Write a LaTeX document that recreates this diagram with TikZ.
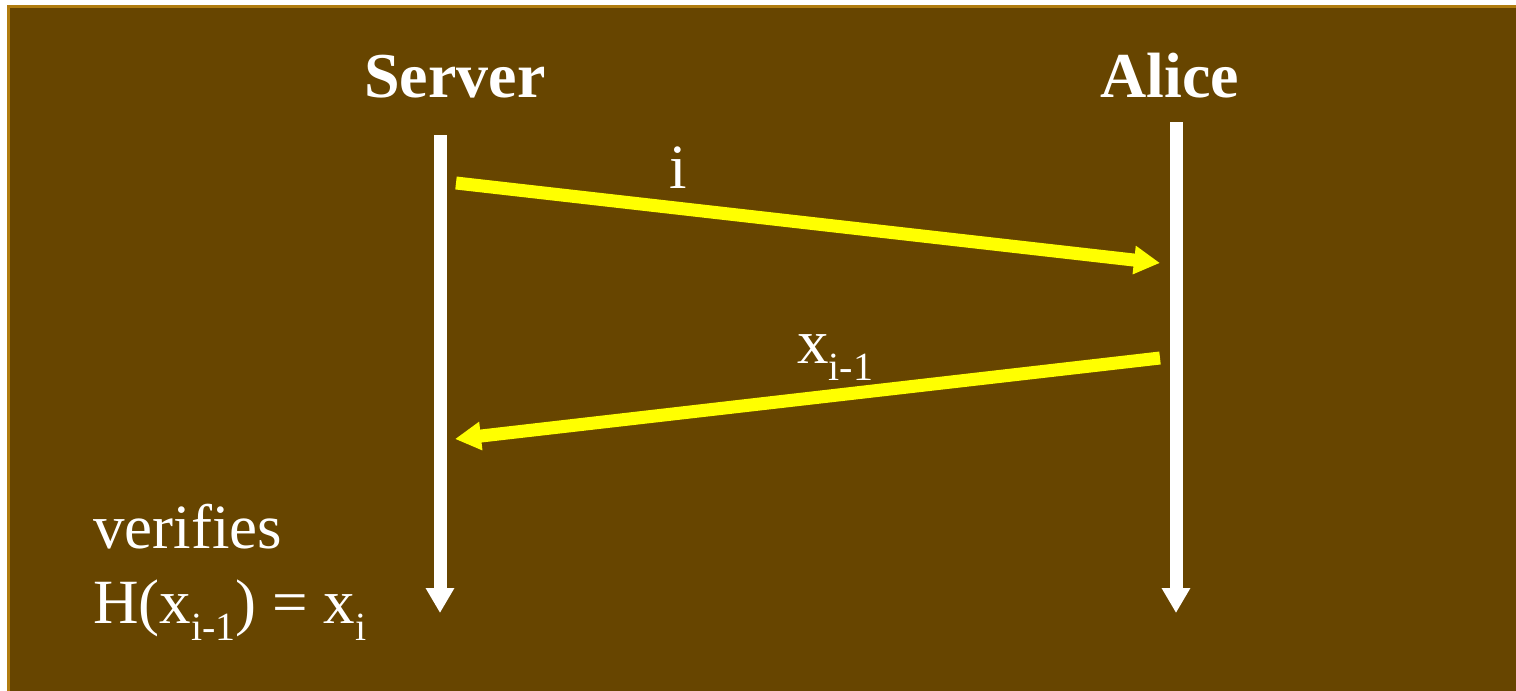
\documentclass[tikz,border=0pt]{standalone}
\usepackage{fontspec}
\setmainfont{Liberation Serif}
\usetikzlibrary{arrows.meta}
\definecolor{bgbrown}{RGB}{103,69,0}
\definecolor{rimbrown}{RGB}{176,124,16}
\definecolor{msgyellow}{RGB}{255,255,0}
\newcommand{\bigtxt}{\fontsize{63}{70}\selectfont}
\newcommand{\subtxt}[1]{\raisebox{-0.27em}{\fontsize{40}{42}\selectfont #1}}
\begin{document}
\begin{tikzpicture}[x=1pt,y=-1pt,
  lifeline/.style={draw=white,line width=13pt,-{Triangle[length=25pt,width=27pt]}},
  message/.style={draw=msgyellow,line width=13pt,-{Triangle[length=26pt,width=27pt]}},
  actor/.style={text=white,font=\fontsize{64}{70}\selectfont\bfseries,inner sep=0pt,anchor=base},
  label/.style={text=white,font=\bigtxt,inner sep=0pt}]
\useasboundingbox (0,0) rectangle (1516,691);
\fill[white] (0,0) rectangle (1516,691);
\fill[rimbrown] (7,5) rectangle (1530,705);
\fill[bgbrown] (10,8) rectangle (1530,705);
\node[actor] (server) at (455,97) {Server};
\node[actor] (alice) at (1170,97) {Alice};
\coordinate (sTop) at (440,135);
\coordinate (sBot) at (440,613);
\coordinate (aTop) at (1176,122);
\coordinate (aBot) at (1176,613);
\draw[lifeline] (sTop) -- (sBot);
\draw[lifeline] (aTop) -- (aBot);
\coordinate (m1s) at (456,183);
\coordinate (m1e) at (1160,263);
\coordinate (m2s) at (1160,358);
\coordinate (m2e) at (455,439);
\draw[message] (m1s) -- (m1e);
\draw[message] (m2s) -- (m2e);
\node[label,anchor=base] (lbli) at (678,188) {i};
\node[label,anchor=base west] (lblx) at (797,363) {x\subtxt{i-1}};
\node[label,anchor=base west] (verif) at (93,548) {verifies};
\node[label,anchor=base west] (eqn) at (93,623) {H(x\subtxt{i-1}) = x\subtxt{i}};
\end{tikzpicture}
\end{document}
